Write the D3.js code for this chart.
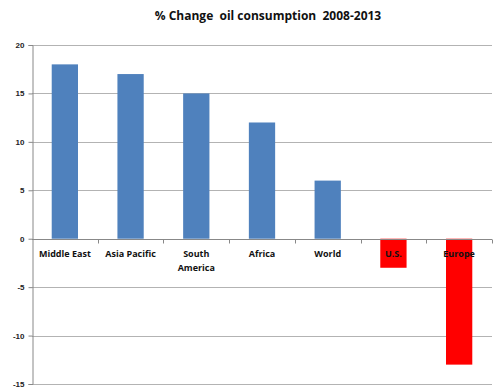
<!DOCTYPE html>
<html><head><meta charset="utf-8">
<script src="https://cdn.jsdelivr.net/npm/d3@7"></script>
<style>body{margin:0;background:#fff;} svg{display:block;font-family:"Open Sans","Liberation Sans",sans-serif;}</style>
</head><body>
<script>
const categories = [["Middle East"],["Asia Pacific"],["South","America"],["Africa"],["World"],["U.S."],["Europe"]];
const values = [18, 17, 15, 12, 6, -3, -13];
const yTicks = [20, 15, 10, 5, 0, -5, -10, -15];
const title = "% Change  oil consumption  2008-2013";

const W = 500, H = 392;
const m = {left: 32, right: 8, top: 45, bottom: 8};
const svg = d3.select("body").append("svg").attr("width", W).attr("height", H);

const x = d3.scaleBand().domain(d3.range(categories.length)).range([m.left, W - m.right]).paddingInner(0.6).paddingOuter(0.3);
const xb = d3.scaleBand().domain(d3.range(categories.length)).range([m.left, W - m.right]);
const y = d3.scaleLinear().domain([-15, 20]).range([384, 45]);

// grid
svg.append("g").selectAll("line").data(yTicks.filter(d => d !== 0)).join("line")
  .attr("x1", m.left).attr("x2", W - m.right)
  .attr("y1", d => Math.round(y(d)) + 0.5).attr("y2", d => Math.round(y(d)) + 0.5)
  .attr("stroke", "#b3b3b3").attr("stroke-width", 1);

// bars
svg.append("g").selectAll("rect").data(values).join("rect")
  .attr("x", (d, i) => x(i)).attr("width", x.bandwidth())
  .attr("y", d => y(Math.max(0, d))).attr("height", d => Math.abs(y(d) - y(0)))
  .attr("fill", d => d >= 0 ? "#4f81bd" : "#ff0000");

// y axis
const yAxis = svg.append("g").attr("transform", `translate(${m.left + 0.5},0)`)
  .call(d3.axisLeft(y).tickValues(yTicks).tickFormat(d => String(d)).tickSize(4).tickPadding(4));
yAxis.select(".domain").attr("stroke", "#888");
yAxis.selectAll(".tick line").attr("stroke", "#888");
yAxis.selectAll("text").attr("font-size", 8).attr("font-weight", "bold").attr("fill", "#222");

// zero axis
const zy = Math.round(y(0)) + 0.5;
svg.append("line").attr("x1", m.left).attr("x2", W - m.right).attr("y1", zy).attr("y2", zy).attr("stroke", "#888");
svg.append("g").selectAll("line").data(d3.range(1, categories.length + 1)).join("line")
  .attr("x1", i => Math.round(i < categories.length ? xb(i) : W - m.right) + 0.5)
  .attr("x2", i => Math.round(i < categories.length ? xb(i) : W - m.right) + 0.5)
  .attr("y1", zy).attr("y2", zy + 4).attr("stroke", "#888");

// category labels
const lab = svg.append("g").selectAll("text").data(categories).join("text")
  .attr("x", (d, i) => xb(i) + xb.bandwidth() / 2).attr("y", zy + 17)
  .attr("text-anchor", "middle").attr("font-size", 9).attr("font-weight", "bold").attr("fill", "#111");
lab.selectAll("tspan").data(d => d).join("tspan")
  .attr("x", function() { return this.parentNode.getAttribute("x"); })
  .attr("dy", (d, j) => j === 0 ? 0 : 14).text(d => d);

// title
svg.append("text").attr("x", 268).attr("y", 20).attr("text-anchor", "middle")
  .attr("font-size", 12).attr("font-weight", "bold").attr("fill", "#111")
  .attr("xml:space", "preserve").style("white-space", "pre").text(title);
</script>
</body></html>
